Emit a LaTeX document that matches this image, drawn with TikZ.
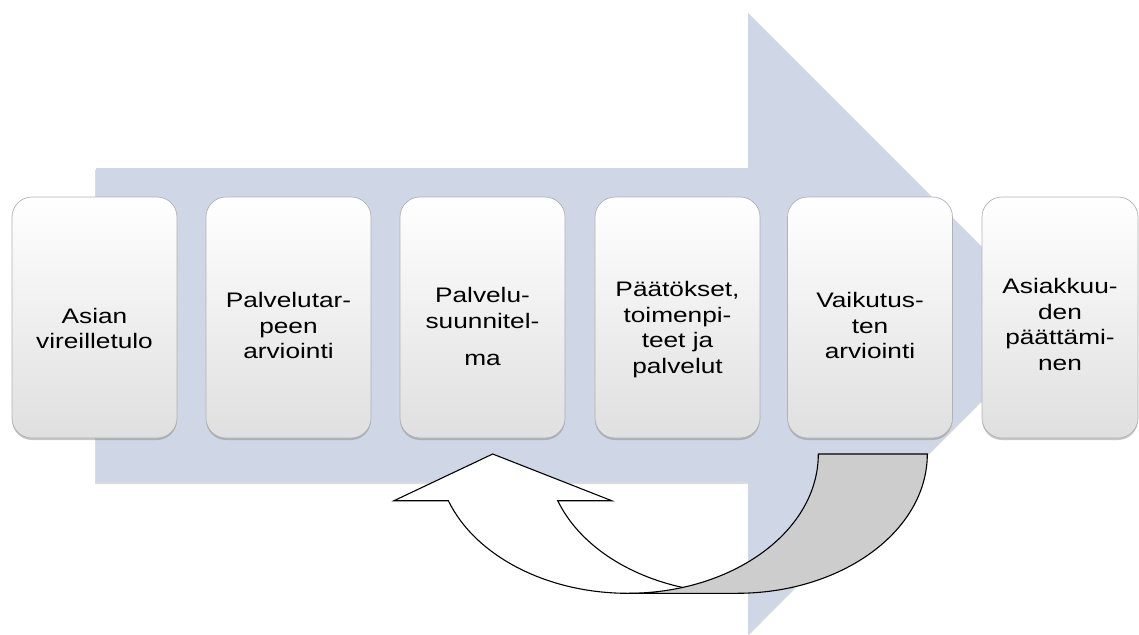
\documentclass[tikz,border=0pt]{standalone}
\usepackage{fontspec}
\setmainfont{Liberation Sans}[FakeStretch=1.25]
\usetikzlibrary{shadows}
\usetikzlibrary{positioning}
\definecolor{flowblue}{HTML}{CFD6E5}
\definecolor{backgrey}{HTML}{CDCDCD}

\begin{document}
\begin{tikzpicture}[x=1pt,y=-1pt,
    phase node/.style={rectangle,rounded corners=20pt,draw=gray!60,line width=0.7pt,
      top color=white,bottom color=gray!25,minimum width=165pt,minimum height=241pt,
      drop shadow={shadow xshift=0pt,shadow yshift=-2pt,opacity=0.45}},
    phase text/.style={align=center,inner sep=0pt,font=\fontsize{21}{25.5}\selectfont},
    loop part/.style={draw=black,line width=1.1pt,line join=miter}]
   \useasboundingbox (0,0) rectangle (1139,634);

   % big arrow in the back
   \fill[gray!60,opacity=0.45] (95,170) -- (748,170) -- (748,15) -- (1058,325.5)
      -- (748,636) -- (748,484) -- (95,484) -- cycle;
   \fill[flowblue] (96,168) -- (748,168) -- (748,13) -- (1058.5,323.5)
      -- (748,634) -- (748,482) -- (96,482) -- cycle;

   % phases
   \node[phase node] (a) at (94.5,317.5) {};
   \node[phase node] (b) at (288.5,317.5) {};
   \node[phase node] (c) at (482.5,317.5) {};
   \node[phase node] (d) at (677.5,317.5) {};
   \node[phase node] (e) at (870,317.5) {};
   \node[phase node,minimum width=156pt] (f) at (1060,317.5) {};

   \node[phase text] (a text) at ([yshift=-11pt]a.center) {Asian\\vireilletulo};
   \node[phase text] (b text) at ([yshift=-8pt]b.center) {Palvelutar-\\peen\\arviointi};
   \node[phase text] (c text) at ([yshift=-9pt]c.center) {Palvelu-\\suunnitel-\\[12pt]ma};
   \node[phase text] (d text) at ([yshift=-12pt]d.center) {Päätökset,\\toimenpi-\\teet ja\\palvelut};
   \node[phase text] (e text) at ([yshift=-8pt]e.center) {Vaikutus-\\ten\\arviointi};
   \node[phase text] (f text) at ([yshift=-7pt]f.center) {Asiakkuu-\\den\\päättämi-\\nen};

   % curved arrow back to planning
   \path[loop part,fill=white] (492.7,454) -- (611.7,500.7) -- (557.7,500.7)
      arc[start angle=160.4,end angle=90,x radius=190.5,y radius=139.3]
      -- (627.8,593.3)
      arc[start angle=90,end angle=160.4,x radius=190.5,y radius=139.3]
      -- (394,500.7) -- cycle;
   \path[loop part,fill=backgrey] (818.3,454) -- (927.3,454)
      arc[start angle=0,end angle=90,x radius=190.5,y radius=139.3]
      -- (627.8,593.3)
      arc[start angle=90,end angle=0,x radius=190.5,y radius=139.3]
      -- cycle;
\end{tikzpicture}
\end{document}
